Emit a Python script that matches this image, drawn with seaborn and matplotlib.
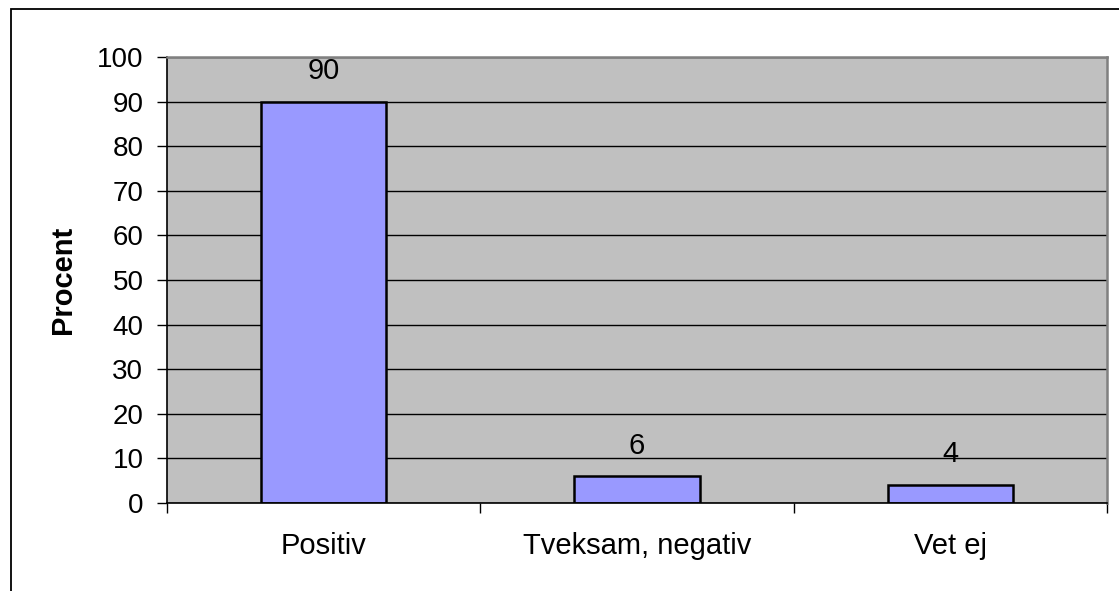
import pandas as pd
import numpy as np
import matplotlib.pyplot as plt
import seaborn as sns
from matplotlib.patches import Rectangle

sns.set_theme(style='white')
plt.rcParams['font.family'] = ['Liberation Sans', 'DejaVu Sans']
plt.rcParams['text.color'] = 'black'
plt.rcParams['xtick.color'] = 'black'
plt.rcParams['ytick.color'] = 'black'
plt.rcParams['axes.labelcolor'] = 'black'

# data
categories = ['Positiv', 'Tveksam, negativ', 'Vet ej']
values = [90, 6, 4]
y_ticks = [0, 10, 20, 30, 40, 50, 60, 70, 80, 90, 100]

df = pd.DataFrame({'kategori': categories, 'procent': values})

fig = plt.figure(figsize=(11.19, 5.91), dpi=100)
ax = fig.add_axes([167 / 1119, 1 - 503 / 591, (1107 - 167) / 1119, (503 - 57) / 591])

# outer frame (cropped at right and bottom like the original)
fig.patches.append(Rectangle((11 / 1119, -0.1), 1.2, 1 - 9 / 591 + 0.1,
                             transform=fig.transFigure, fill=False,
                             edgecolor='black', linewidth=1.3))

ax.set_facecolor('#C0C0C0')
ax.set_axisbelow(True)
ax.yaxis.grid(True, color='black', linewidth=1.0)
ax.xaxis.grid(False)

sns.barplot(data=df, x='kategori', y='procent', color='#9999FF',
            saturation=1, width=0.4, edgecolor='black', linewidth=1.8, ax=ax)

for i, v in enumerate(values):
    ax.annotate(str(v), (i, v), xytext=(0, 12), textcoords='offset points',
                ha='center', va='bottom', fontsize=21)

ax.set_ylim(0, 100)
ax.set_xlim(-0.5, 2.5)
ax.set_yticks(y_ticks)
ax.set_yticklabels([str(t) for t in y_ticks], fontsize=20)
ax.set_xticks([0, 1, 2])
ax.set_xticklabels(categories, fontsize=21)
ax.set_xticks([-0.5, 0.5, 1.5, 2.5], minor=True)
ax.tick_params(axis='x', which='major', length=0, pad=21)
ax.tick_params(axis='x', which='minor', length=7, color='black', width=1, direction='out', bottom=True)
ax.tick_params(axis='y', length=7, color='black', width=1, direction='out', left=True, pad=10)

ax.set_xlabel('')
ax.set_ylabel('Procent', fontsize=21, fontweight='bold', labelpad=14)

for side in ['top', 'right']:
    ax.spines[side].set_color('#808080')
    ax.spines[side].set_linewidth(1.8)
for side in ['left', 'bottom']:
    ax.spines[side].set_color('black')
    ax.spines[side].set_linewidth(1.2)

fig.savefig('out.png', dpi=100)
